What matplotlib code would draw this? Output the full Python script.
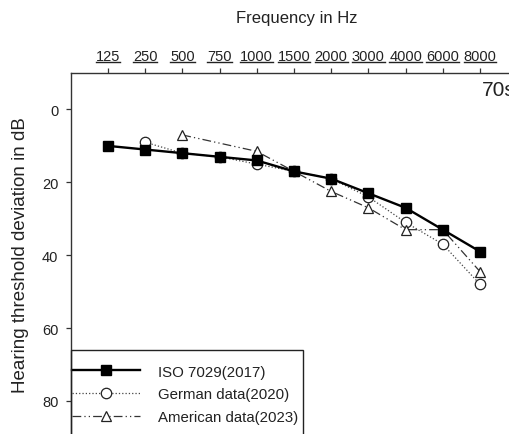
import matplotlib
matplotlib.use('Agg')
import matplotlib.pyplot as plt
from matplotlib.lines import Line2D
from matplotlib.patches import Rectangle

# data (hearing threshold deviation, dB)
freq_labels = ['125', '250', '500', '750', '1000', '1500', '2000', '3000', '4000', '6000', '8000']
iso_freqs = freq_labels
iso_vals = [10, 11, 12, 13, 14, 17, 19, 23, 27, 33, 39]
german_freqs = ['250', '500', '750', '1000', '1500', '2000', '3000', '4000', '6000', '8000']
german_vals = [9, 12, 13, 15, 17, 19, 24, 31, 37, 48]
american_freqs = ['500', '1000', '1500', '2000', '3000', '4000', '6000', '8000']
american_vals = [7, 11.5, 17, 22.5, 27, 33, 33, 44.5]
series_names = ['ISO 7029(2017)', 'German data(2020)', 'American data(2023)']
y_ticks = [0, 20, 40, 60, 80]

plt.rcParams['font.family'] = ['Liberation Sans', 'DejaVu Sans']
ink = '#222222'

W, H = 510, 435
fig = plt.figure(figsize=(W / 100, H / 100), dpi=100)

# axes box in pixels; it runs off the right and bottom edges like the cropped original
ax_left, ax_top = 70.7, 74.0
ax_right, ax_bottom = 517.2, 474.8
ax = fig.add_axes([ax_left / W, 1 - ax_bottom / H,
                   (ax_right - ax_left) / W, (ax_bottom - ax_top) / H])


def pos(labels):
    return [freq_labels.index(f) for f in labels]


l_ger, = ax.plot(pos(german_freqs), german_vals, color='#444444', lw=0.9, ls=':',
                 marker='o', ms=7.5, mfc='white', mec=ink, mew=0.9, zorder=2)
l_ame, = ax.plot(pos(american_freqs), american_vals, color='#333333', lw=0.9,
                 dashes=(7, 2.5, 1, 2.5, 1, 2.5),
                 marker='^', ms=7.5, mfc='white', mec=ink, mew=0.9, zorder=3)
l_iso, = ax.plot(pos(iso_freqs), iso_vals, color='black', lw=1.7,
                 marker='s', ms=7, mfc='black', mec='black', zorder=4)

ax.set_xlim(-1, 11)
ax.set_ylim(100, -10)
ax.xaxis.tick_top()
ax.set_xticks(range(len(freq_labels)))
ax.set_xticklabels(freq_labels)
ax.set_yticks(y_ticks)
for side in ['bottom', 'right']:
    ax.spines[side].set_visible(False)
for side in ['top', 'left']:
    ax.spines[side].set_color('#333333')
    ax.spines[side].set_linewidth(1.0)
ax.tick_params(axis='x', length=3.4, width=0.9, pad=4, labelsize=10.5, colors='#333333', labelcolor=ink)
ax.tick_params(axis='y', length=3.4, width=0.9, pad=5.5, labelsize=10.5, colors='#333333', labelcolor=ink)

fig.text(297 / W, 1 - 18 / H, 'Frequency in Hz', ha='center', va='center', fontsize=12, color=ink)
fig.text(21 / W, 1 - 255 / H, 'Hearing threshold deviation in dB', rotation=90,
         ha='center', va='center', fontsize=13.5, color=ink)
fig.text(481.7 / W, 1 - 80.5 / H, '70s', ha='left', va='top', fontsize=15, color=ink)

# legend: frame drawn separately so it can sit flush with the spine
fig.add_artist(Rectangle((71 / W, 1 - 445 / H), (302.7 - 71) / W, (445 - 351) / H,
                         transform=fig.transFigure, fill=False, ec=ink, lw=1.0))
ax.legend([l_iso, l_ger, l_ame], series_names, loc='upper left',
          bbox_to_anchor=(72 / W, 1 - 365.5 / H), bbox_transform=fig.transFigure,
          frameon=False, borderpad=0, borderaxespad=0, handlelength=4.5,
          handletextpad=1.2, labelspacing=0.58, fontsize=10.8, numpoints=1,
          labelcolor=ink)

# underline the top tick labels
fig.canvas.draw()
inv = fig.transFigure.inverted()
for lab in ax.get_xticklabels():
    bb = lab.get_window_extent()
    (x0, y0), (x1, _) = inv.transform([(bb.x0, bb.y0 + 0.5), (bb.x1, bb.y0 + 0.5)])
    fig.add_artist(Line2D([x0, x1], [y0, y0], transform=fig.transFigure, color=ink, lw=1.0))

fig.savefig('out.png', dpi=100)
